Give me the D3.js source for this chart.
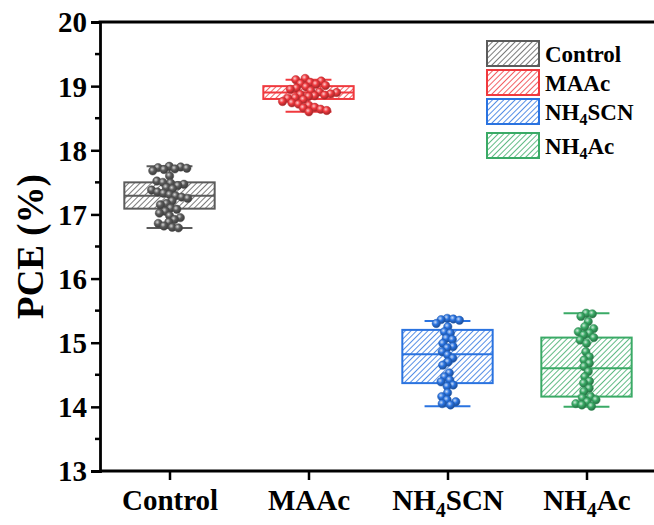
<!DOCTYPE html>
<html>
<head>
<meta charset="utf-8">
<script src="https://cdn.jsdelivr.net/npm/d3@7"></script>
<style>
  html, body { margin: 0; padding: 0; background: #fff; }
  svg text { font-family: "Liberation Serif", "Times New Roman", Times, serif; font-weight: bold; fill: #000; }
</style>
</head>
<body>
<div id="chart"></div>
<script>
// groups and colours
const groups = ["Control", "MAAc", "NH4SCN", "NH4Ac"];
const colors = ["#5b5b5b", "#f0393e", "#2a73e0", "#3aaa66"];

// box statistics
const q1 = [17.09, 18.80, 14.37, 14.16];
const median = [17.29, 18.90, 14.82, 14.60];
const q3 = [17.50, 19.00, 15.20, 15.08];
const whiskerLow = [16.79, 18.60, 14.01, 14.00];
const whiskerHigh = [17.75, 19.10, 15.34, 15.46];

// individual device PCE values
const controlPCE = [17.75, 17.74, 17.73, 17.72, 17.71, 17.70, 17.68, 17.60, 17.52, 17.50, 17.49,
    17.47, 17.45, 17.42, 17.40, 17.38, 17.35, 17.33, 17.31, 17.29, 17.27, 17.25, 17.21, 17.17,
    17.15, 17.10, 17.08, 17.05, 17.02, 16.98, 16.95, 16.92, 16.88, 16.86, 16.82, 16.80, 16.79];
const maacPCE = [19.12, 19.10, 19.08, 19.06, 19.04, 19.03, 19.01, 18.99, 18.97, 18.95, 18.93,
    18.91, 18.90, 18.88, 18.87, 18.86, 18.85, 18.84, 18.82, 18.81, 18.79, 18.76, 18.74, 18.72,
    18.70, 18.67, 18.66, 18.64, 18.62, 18.60];
const scnPCE = [15.38, 15.37, 15.36, 15.35, 15.30, 15.25, 15.17, 15.15, 15.07, 15.05, 14.99,
    14.94, 14.92, 14.86, 14.81, 14.76, 14.70, 14.65, 14.53, 14.47, 14.42, 14.39, 14.34, 14.32,
    14.22, 14.16, 14.11, 14.08, 14.05, 14.03];
const acPCE = [15.46, 15.45, 15.41, 15.33, 15.25, 15.22, 15.17, 15.15, 15.12, 15.08, 15.04,
    14.99, 14.86, 14.78, 14.73, 14.68, 14.63, 14.55, 14.47, 14.40, 14.37, 14.29, 14.24, 14.16,
    14.14, 14.11, 14.08, 14.05, 14.03, 14.01];
const points = [controlPCE, maacPCE, scnPCE, acPCE];

const yTicks = [13, 14, 15, 16, 17, 18, 19, 20];

const W = 654, H = 525;
const margin = { top: 22, right: -2, bottom: 54, left: 100 };
const FONT = '"Liberation Serif", "Times New Roman", Times, serif';

const svg = d3.select("#chart").append("svg")
    .attr("width", W)
    .attr("height", H);

const x = d3.scaleLinear()
    .domain([0.5, 4.5])
    .range([margin.left, W - margin.right]);

const y = d3.scaleLinear()
    .domain([13, 20])
    .range([H - margin.bottom, margin.top]);

const step = x(2) - x(1);
const boxW = step * 0.65;
const capW = step * 0.33;

const defs = svg.append("defs");

// hatch pattern + sphere gradient for each colour
colors.forEach((c, i) => {
    const p = defs.append("pattern")
        .attr("id", "hatch" + i)
        .attr("patternUnits", "userSpaceOnUse")
        .attr("width", 4)
        .attr("height", 4)
        .attr("patternTransform", "rotate(45)");
    p.append("rect").attr("width", 4).attr("height", 4).attr("fill", "#fff");
    p.append("line")
        .attr("x1", 0).attr("y1", 0).attr("x2", 0).attr("y2", 4)
        .attr("stroke", c)
        .attr("stroke-width", 1.6);

    const g = defs.append("radialGradient")
        .attr("id", "ball" + i)
        .attr("cx", "38%").attr("cy", "35%").attr("r", "65%");
    g.append("stop").attr("offset", "0%").attr("stop-color", d3.interpolateRgb(c, "#fff")(0.75));
    g.append("stop").attr("offset", "45%").attr("stop-color", c);
    g.append("stop").attr("offset", "100%").attr("stop-color", d3.interpolateRgb(c, "#000")(0.35));
});

// subscript digits in labels like NH4SCN
function subLabel(sel, label, small, shift) {
    const parts = label.match(/[A-Za-z]+|\d+/g);
    let down = false;
    parts.forEach(part => {
        const isNum = /\d/.test(part);
        const t = sel.append("tspan").text(part);
        if (isNum) {
            t.attr("font-size", small).attr("dy", shift);
            down = true;
        } else if (down) {
            t.attr("dy", -shift);
            down = false;
        }
    });
}

// boxes
const boxes = svg.append("g");
groups.forEach((name, i) => {
    const cx = x(i + 1);
    const g = boxes.append("g");
    // whiskers
    g.append("line")
        .attr("x1", cx).attr("x2", cx)
        .attr("y1", y(whiskerHigh[i])).attr("y2", y(q3[i]))
        .attr("stroke", colors[i]).attr("stroke-width", 2);
    g.append("line")
        .attr("x1", cx).attr("x2", cx)
        .attr("y1", y(q1[i])).attr("y2", y(whiskerLow[i]))
        .attr("stroke", colors[i]).attr("stroke-width", 2);
    [whiskerHigh[i], whiskerLow[i]].forEach(v => {
        g.append("line")
            .attr("x1", cx - capW / 2).attr("x2", cx + capW / 2)
            .attr("y1", y(v)).attr("y2", y(v))
            .attr("stroke", colors[i]).attr("stroke-width", 2);
    });
    g.append("rect")
        .attr("x", cx - boxW / 2)
        .attr("y", y(q3[i]))
        .attr("width", boxW)
        .attr("height", y(q1[i]) - y(q3[i]))
        .attr("fill", `url(#hatch${i})`)
        .attr("stroke", colors[i])
        .attr("stroke-width", 2);
    g.append("line")
        .attr("x1", cx - boxW / 2).attr("x2", cx + boxW / 2)
        .attr("y1", y(median[i])).attr("y2", y(median[i]))
        .attr("stroke", colors[i]).attr("stroke-width", 2);
});

// jittered points (loose swarm so they overlap, like the original)
const dots = svg.append("g");
points.forEach((vals, i) => {
    const cx = x(i + 1);
    const nodes = vals.map(v => ({ v, x: cx, y: y(v), fy: y(v) }));
    const sim = d3.forceSimulation(nodes)
        .force("x", d3.forceX(cx).strength(0.09))
        .force("collide", d3.forceCollide(3.1))
        .stop();
    for (let k = 0; k < 250; k++) sim.tick();
    dots.append("g")
        .selectAll("circle")
        .data(nodes)
        .join("circle")
        .attr("cx", d => d.x)
        .attr("cy", d => d.y)
        .attr("r", 4.2)
        .attr("fill", `url(#ball${i})`)
        .attr("stroke", d3.interpolateRgb(colors[i], "#000")(0.2))
        .attr("stroke-width", 0.5);
});

// axes
const left = svg.append("g")
    .attr("transform", `translate(${margin.left},0)`)
    .call(d3.axisLeft(y).tickValues(yTicks).tickFormat(d3.format("d")).tickSize(9).tickPadding(4));
left.selectAll("text").attr("font-size", 29).attr("dy", "0.34em");

const minor = d3.range(13.5, 20, 1);
left.append("g").selectAll("line")
    .data(minor)
    .join("line")
    .attr("x1", -5).attr("x2", 0)
    .attr("y1", d => y(d)).attr("y2", d => y(d))
    .attr("stroke", "#000").attr("stroke-width", 2.5);

const bottom = svg.append("g")
    .attr("transform", `translate(0,${H - margin.bottom})`)
    .call(d3.axisBottom(x).tickValues([1, 2, 3, 4]).tickFormat("").tickSize(9));

[left, bottom].forEach(a => {
    a.attr("font-family", FONT);
    a.select(".domain").attr("stroke-width", 2.8).attr("stroke", "#000");
    a.selectAll(".tick line").attr("stroke-width", 2.5).attr("stroke", "#000");
});
bottom.select(".domain").attr("d", `M${margin.left},0H${W}`);

bottom.selectAll(".tick").each(function(d, i) {
    const t = d3.select(this).append("text")
        .attr("y", 39)
        .attr("text-anchor", "middle")
        .attr("font-size", 29);
    subLabel(t, groups[i], 20, 7);
});

// top frame line
svg.append("line")
    .attr("x1", margin.left - 1.4).attr("x2", W)
    .attr("y1", margin.top).attr("y2", margin.top)
    .attr("stroke", "#000").attr("stroke-width", 2.8);

// y label
svg.append("text")
    .attr("transform", `translate(43,${(margin.top + H - margin.bottom) / 2}) rotate(-90)`)
    .attr("text-anchor", "middle")
    .attr("font-size", 37)
    .text("PCE (%)");

// legend
const legend = svg.append("g").attr("transform", "translate(487,41)");
let ly = 0;
groups.forEach((name, i) => {
    const row = legend.append("g").attr("transform", `translate(0,${ly})`);
    row.append("rect")
        .attr("width", 52).attr("height", 25)
        .attr("fill", `url(#hatch${i})`)
        .attr("stroke", colors[i])
        .attr("stroke-width", 2);
    const t = row.append("text")
        .attr("x", 58).attr("y", 20.5)
        .attr("font-size", 23);
    subLabel(t, name, 16, 5.5);
    ly += /\d/.test(name) ? 34 : 29;
});
</script>
</body>
</html>
